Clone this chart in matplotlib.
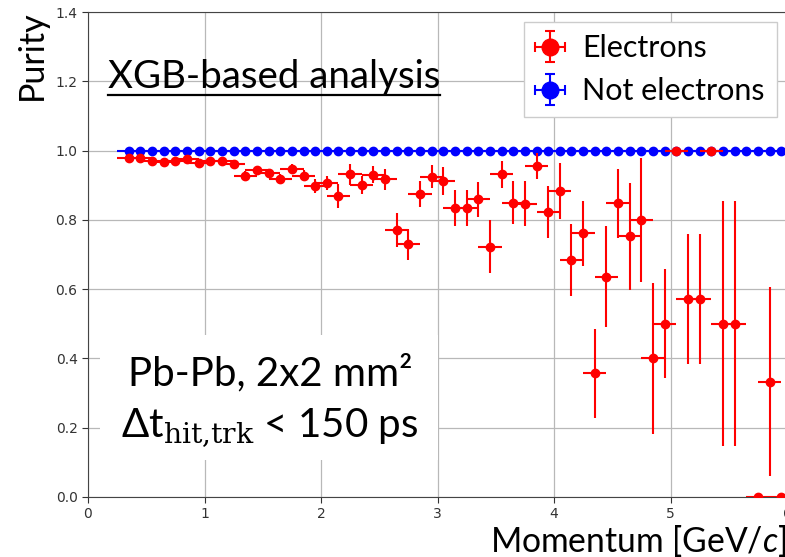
import numpy as np
import matplotlib
matplotlib.use('Agg')
import matplotlib.pyplot as plt
from matplotlib.lines import Line2D
from matplotlib.patches import Rectangle

plt.rcParams['font.family'] = ['Lato', 'DejaVu Sans']
plt.rcParams['mathtext.fontset'] = 'custom'
plt.rcParams['mathtext.rm'] = 'DejaVu Serif'
plt.rcParams['mathtext.it'] = 'Lato:italic'

# momentum bin centres [GeV/c], bin half width 0.1
p_bins = [0.35, 0.45, 0.55, 0.65, 0.75, 0.85, 0.95, 1.05, 1.15, 1.25,
          1.35, 1.45, 1.55, 1.65, 1.75, 1.85, 1.95, 2.05, 2.15, 2.25,
          2.35, 2.45, 2.55, 2.65, 2.75, 2.85, 2.95, 3.05, 3.15, 3.25,
          3.35, 3.45, 3.55, 3.65, 3.75, 3.85, 3.95, 4.05, 4.15, 4.25,
          4.35, 4.45, 4.55, 4.65, 4.75, 4.85, 4.95, 5.05, 5.15, 5.25,
          5.35, 5.45, 5.55, 5.65, 5.75, 5.85, 5.95, 6.05]
p_halfwidth = 0.1

purity_e = [0.978, 0.980, 0.970, 0.966, 0.971, 0.975, 0.963, 0.970, 0.970, 0.961,
            0.928, 0.944, 0.934, 0.918, 0.947, 0.928, 0.898, 0.907, 0.869, 0.931,
            0.901, 0.930, 0.917, 0.771, 0.730, 0.874, 0.925, 0.913, 0.833, 0.833,
            0.859, 0.723, 0.931, 0.850, 0.846, 0.956, 0.822, 0.883, 0.684, 0.761,
            0.357, 0.636, 0.848, 0.752, 0.800, 0.400, 0.500, 1.000, 0.572, 0.572,
            1.000, 0.500, 0.500, np.nan, 0.000, 0.333, 0.000, np.nan]
err_e = [0.008, 0.008, 0.008, 0.008, 0.008, 0.008, 0.010, 0.010, 0.010, 0.010,
         0.012, 0.012, 0.012, 0.014, 0.014, 0.015, 0.020, 0.020, 0.035, 0.030,
         0.025, 0.025, 0.030, 0.048, 0.045, 0.038, 0.033, 0.040, 0.052, 0.052,
         0.050, 0.077, 0.038, 0.062, 0.065, 0.038, 0.075, 0.080, 0.105, 0.093,
         0.128, 0.145, 0.100, 0.154, 0.180, 0.218, 0.157, 0.000, 0.187, 0.187,
         0.000, 0.354, 0.354, 0.000, 0.000, 0.272, 0.000, 0.000]

purity_ne = [1.0, 1.0, 1.0, 1.0, 1.0, 1.0, 1.0, 1.0, 1.0, 1.0,
             1.0, 1.0, 1.0, 1.0, 1.0, 1.0, 1.0, 1.0, 1.0, 1.0,
             1.0, 1.0, 1.0, 1.0, 1.0, 1.0, 1.0, 1.0, 1.0, 1.0,
             1.0, 1.0, 1.0, 1.0, 1.0, 1.0, 1.0, 1.0, 1.0, 1.0,
             1.0, 1.0, 1.0, 1.0, 0.998, 0.998, 0.998, 1.0, 1.0, 1.0,
             1.0, 1.0, 1.0, 1.0, 1.0, 1.0, 1.0, 1.0]
err_ne = [0.001] * len(p_bins)

fig = plt.figure(figsize=(7.85, 5.57), dpi=100)
W, H = 785.0, 557.0
x_max = 6.5
ax = fig.add_axes([88 / W, 60 / H, x_max * 116.5 / W, 485 / H])

eb_ne = ax.errorbar(p_bins, purity_ne, yerr=err_ne, xerr=p_halfwidth, fmt='o',
                    color='#0000ff', ms=6, elinewidth=1.5, capsize=3.5, capthick=1.5,
                    label='Not electrons', zorder=3)
eb_e = ax.errorbar(p_bins, purity_e, yerr=err_e, xerr=p_halfwidth, fmt='o',
                   color='#ff0000', ms=6, elinewidth=1.5, capsize=3.5, capthick=1.5,
                   label='Electrons', zorder=4)

ax.set_xlim(0, x_max)
ax.set_ylim(0, 1.4)
ax.set_xticks([0, 1, 2, 3, 4, 5, 6])
ax.set_yticks([0.0, 0.2, 0.4, 0.6, 0.8, 1.0, 1.2, 1.4])
ax.set_yticklabels(['0.0', '0.2', '0.4', '0.6', '0.8', '1.0', '1.2', '1.4'])
ax.grid(True, color='#b8b8b8', linewidth=0.9)
ax.set_axisbelow(True)
ax.tick_params(labelsize=10, length=4, colors='#333333')
for lab in ax.get_xticklabels() + ax.get_yticklabels():
    lab.set_family('DejaVu Sans')
for s in ax.spines.values():
    s.set_color('#444444')

leg = ax.legend(handles=[eb_e, eb_ne], labels=['Electrons', 'Not electrons'],
                loc='upper right', bbox_to_anchor=(777 / W, 1 - 22 / H),
                bbox_transform=fig.transFigure, borderaxespad=0, fontsize=22,
                markerscale=2, fancybox=False, edgecolor='#cccccc', framealpha=1,
                handlelength=0.9, handletextpad=0.6, borderpad=0.4, labelspacing=0.49)
# no caps on the data points, only in the legend
for eb in (eb_e, eb_ne):
    for cap in eb[1]:
        cap.set_visible(False)

fig.text(490 / W, 1 - 552 / H, 'Momentum [GeV/$c$]', fontsize=24.2,
         va='baseline', ha='left')
fig.text(32 / W, 1 - 10 / H, 'Purity', fontsize=24.5, rotation=90, va='top', ha='center')

title = fig.text(108 / W, 1 - 88 / H, 'XGB-based analysis', fontsize=27.7,
                 va='baseline', ha='left')
fig.canvas.draw()
bb = title.get_window_extent()
fig.add_artist(Line2D([bb.x0 / W, bb.x1 / W], [1 - 95 / H, 1 - 95 / H],
                      transform=fig.transFigure, color='black', linewidth=1.6))

fig.add_artist(Rectangle((100 / W, 1 - 460 / H), 338 / W, 125 / H,
                         transform=fig.transFigure, facecolor='white',
                         edgecolor='none', zorder=2))
fig.text(270 / W, 1 - 385 / H, 'Pb-Pb, 2x2 mm²', fontsize=29,
         ha='center', va='baseline', zorder=3)
fig.text(270 / W, 1 - 437 / H, 'Δt$_{\\mathrm{hit{,}trk}}$ < 150 ps', fontsize=29,
         ha='center', va='baseline', zorder=3)

fig.savefig('out.png', dpi=100)
